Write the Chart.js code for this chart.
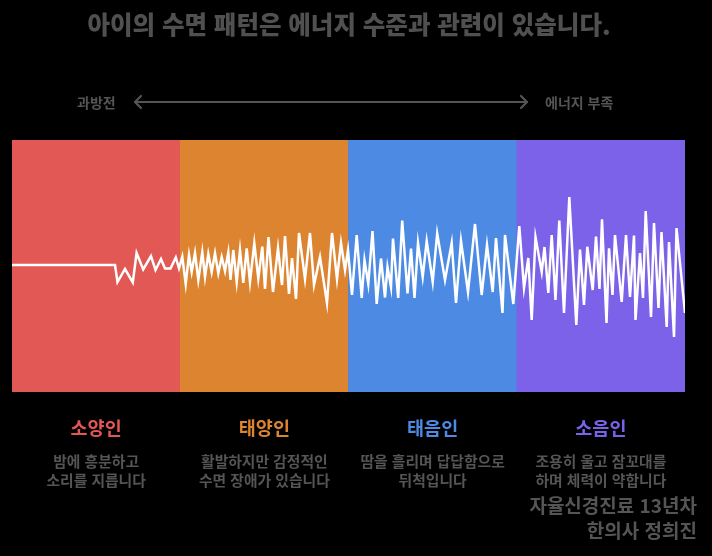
<!DOCTYPE html>
<html lang="ko">
<head>
<meta charset="utf-8">
<script src="https://cdn.jsdelivr.net/npm/chart.js@4.4.0/dist/chart.umd.min.js"></script>
<style>
  html, body { margin:0; padding:0; background:#000; }
  body { width:712px; height:556px; position:relative; overflow:hidden; font-family:"Noto Sans CJK KR","Noto Sans",sans-serif; }
  #wrap { position:absolute; left:0; top:0; width:712px; height:556px; }
  .t { position:absolute; white-space:nowrap; color:#555; font-weight:700; }
  #title { left:0; width:698px; top:8px; text-align:center; font-size:24.5px; line-height:32px; font-weight:900; color:#505050; }
  .arrowlbl { top:92px; font-size:14px; line-height:20px; }
  .name { font-size:18.5px; line-height:26px; top:414px; width:168px; text-align:center; }
  .desc { font-size:14.8px; line-height:19px; top:451px; width:220px; text-align:center; }
  .credit { right:15px; font-size:19px; line-height:26px; text-align:right; font-weight:700; }
</style>
</head>
<body>
<div id="wrap"><canvas id="c" width="712" height="556"></canvas></div>
<div id="title" class="t">아이의 수면 패턴은 에너지 수준과 관련이 있습니다.</div>
<div class="t arrowlbl" style="left:77px;">과방전</div>
<div class="t arrowlbl" style="left:545px;">에너지 부족</div>
<svg style="position:absolute;left:0;top:0;" width="712" height="140">
  <g stroke="#555" stroke-width="2.2" fill="none" stroke-linecap="round" stroke-linejoin="round">
    <line x1="135" y1="102" x2="527" y2="102"/>
    <polyline points="141,96 135,102 141,108"/>
    <polyline points="521,96 527,102 521,108"/>
  </g>
</svg>
<div id="labels"></div>
<div class="t credit" style="top:492px;">자율신경진료 13년차</div>
<div class="t credit" style="top:517px;">한의사 정희진</div>
<script>
// Body types (bands)
const bandNames = ["소양인", "태양인", "태음인", "소음인"];
const bandColors = ["#E25854", "#DD8430", "#4C8AE4", "#7B62E8"];
const bandDescriptions = [
  ["밤에 흥분하고", "소리를 지릅니다"],
  ["활발하지만 감정적인", "수면 장애가 있습니다"],
  ["땀을 흘리며 답답함으로", "뒤척입니다"],
  ["조용히 울고 잠꼬대를", "하며 체력이 약합니다"]
];
const bandRange = [-127, 125];

// Sleep-wave signal: time and amplitude
const waveTime = [
  0, 103, 105.5, 113, 120.8, 124.6, 131.2, 139, 143.5, 149, 153, 158.5, 163.8, 167, 170.3, 173.7,
  177, 179.7, 183, 186.3, 190.3, 193, 196.3, 199.7, 203, 206.3, 209.7, 213, 216.3, 218.5, 221.3,
  224.7, 228, 231.3, 234.7, 238, 242.3, 246.3, 250.3, 253, 256.5, 261, 266, 270, 273, 277, 280,
  284, 287, 293, 298, 302, 308, 315, 320, 325, 329, 333, 336, 340, 344.7, 349.7, 352.5, 356.3,
  360.5, 364.7, 369, 373, 375.5, 379, 381, 386.2, 390.2, 395.5, 399, 402.5, 406, 410.7, 414.7,
  420.7, 425.2, 433, 439.7, 444, 449, 456, 463, 469.7, 475, 480.7, 484, 490.5, 493, 501.3, 507.3,
  512, 516.3, 519.7, 523.5, 529.7, 532.5, 536.3, 539.7, 543.5, 547.3, 552, 557.3, 564.3, 568, 572,
  575.3, 580.7, 584, 587.5, 590, 594.5, 597, 600.5, 603, 609.7, 614, 618, 622, 623.5, 628, 631,
  633.7, 639, 642, 646.5, 649.5, 654.7, 657, 662, 664.5, 673
];
const waveAmplitude = [
  0, 0, -17, -4, -17.5, 12, -4.5, 9, -5, 6, -3.5, -3.5, 7.5, -3.3, 8.3, -19,
  10, -7, 12, -15, 13, -12, 11, -7, 11.7, -8.3, 8, -6, 12.7, -15, 15,
  -17, 15, -18, 16.7, -17, 21.7, -13.5, 18.3, -24, 28, -27, 17, -20, 29, -29, 7,
  -34, 32, -14, 32, -20, 8, -38, 32, -14, 22, -5, 15, -30, 30, -33, 5, -19,
  34, -39, 6.5, -32.5, -2, -22, 26.5, -33, 44.5, -28.5, 16.5, -33, 22, -12, 24,
  -17, 31.5, -15, 22, -38, 24, -27, 41, -30, 20, -27, 27, -48, 30, -39, 39,
  -23, 7, -55, 28, -7, 18, -28, 30, -35, 44.5, -48, 68, -60, 15.5, -40,
  18.3, -25, 28.5, -24, 45.7, -58, 16.7, -30, 30, -37, 30, -32, 29.5, -55, 12, -33,
  54, -52, 42, -43, 33, -62, 23, -72, 37, -48
];

const wavePoints = waveTime.map((t, i) => ({ x: t, y: waveAmplitude[i] }));

new Chart(document.getElementById('c'), {
  data: {
    labels: bandNames,
    datasets: [
      {
        type: 'bar',
        xAxisID: 'xb',
        data: bandNames.map(() => bandRange),
        backgroundColor: bandColors,
        borderWidth: 0,
        grouped: false,
        categoryPercentage: 1,
        barPercentage: 1,
        order: 2
      },
      {
        type: 'line',
        xAxisID: 'x',
        data: wavePoints,
        borderColor: '#ffffff',
        borderWidth: 2.5,
        pointRadius: 0,
        tension: 0,
        fill: false,
        order: 1
      }
    ]
  },
  options: {
    responsive: false,
    animation: false,
    layout: { padding: { left: 12, right: 27, top: 140, bottom: 164 } },
    plugins: { legend: { display: false }, tooltip: { enabled: false }, title: { display: false } },
    scales: {
      x: { type: 'linear', min: 0, max: 673, display: false },
      xb: { type: 'category', labels: bandNames, display: false, offset: true },
      y: { min: bandRange[0], max: bandRange[1], display: false }
    }
  }
});

// Band labels under the chart
const lab = document.getElementById('labels');
bandNames.forEach((n, i) => {
  const cx = 12 + 168.25 * i + 84.125;
  const d1 = document.createElement('div');
  d1.className = 't name';
  d1.style.left = (cx - 84) + 'px';
  d1.style.color = bandColors[i];
  d1.textContent = n;
  lab.appendChild(d1);
  const d2 = document.createElement('div');
  d2.className = 't desc';
  d2.style.left = (cx - 110) + 'px';
  d2.innerHTML = bandDescriptions[i].join('<br>');
  lab.appendChild(d2);
});
</script>
</body>
</html>
